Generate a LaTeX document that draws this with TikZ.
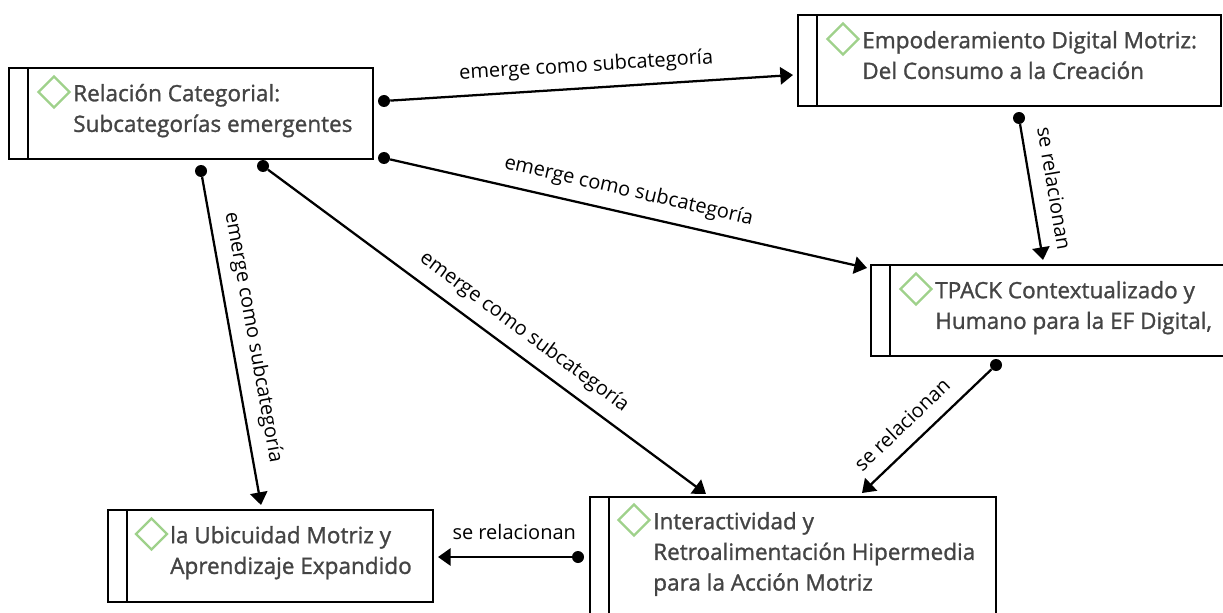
\documentclass[tikz,border=0pt]{standalone}
\usepackage{fontspec}
\setmainfont{Open Sans}
\newfontfamily\boxfont[FakeBold=1.2]{Open Sans}
\usetikzlibrary{arrows.meta,shapes.geometric}
\definecolor{ink}{HTML}{444444}
\definecolor{leaf}{HTML}{9FD18B}
\tikzset{
  x=0.75pt,y=-0.75pt,
  box/.style={draw=black,line width=1.7pt,rectangle,inner sep=0pt,fill=white},
  bar/.style={draw=black,line width=1.7pt},
  mark diamond/.style={diamond,draw=leaf,line width=1.7pt,fill=white,inner sep=0pt,minimum width=24pt,minimum height=24pt},
  title/.style={font=\boxfont\fontsize{16.9}{23}\selectfont,text=ink,align=left,anchor=north west,inner sep=0pt},
  dot/.style={circle,fill=black,inner sep=0pt,minimum size=9pt},
  link/.style={line width=1.7pt,draw=black,-{Triangle[length=9.5pt,width=13pt]}},
  tag/.style={font=\fontsize{15}{17}\selectfont,text=black,inner sep=0pt,sloped},
}
\newcommand{\flowbox}[6]{% name, x0, y0, x1, y1, bar x
  \node[box,minimum width={(#4-#2)*0.75pt},minimum height={(#5-#3)*0.75pt}] (#1) at ({(#2+#4)/2},{(#3+#5)/2}) {};
  \draw[bar] (#6,#3) -- (#6,#5);
}
\newcommand{\firstline}{\rule{0pt}{14pt}}
\begin{document}
\begin{tikzpicture}
\useasboundingbox (0,0) rectangle (1223,613);
\fill[white] (0,0) rectangle (1223,613);
% boxes
\flowbox{A}{9}{68}{373}{159}{28}
\flowbox{B}{798}{15}{1221}{106}{817}
\flowbox{C}{871}{265}{1240}{356}{890}
\flowbox{D}{108}{510}{433}{602}{127}
\flowbox{E}{590}{497}{996}{630}{609}
% diamonds
\node[mark diamond] (dA) at (54,92) {};
\node[mark diamond] (dB) at (843,39) {};
\node[mark diamond] (dC) at (916,289) {};
\node[mark diamond] (dD) at (151.5,534) {};
\node[mark diamond] (dE) at (634,520) {};
% titles
\node[title] (tA) at (73,82.3) {\firstline Relación Categorial:\\Subcategorías emergentes};
\node[title] (tB) at (862,29.3) {\firstline Empoderamiento Digital Motriz:\\Del Consumo a la Creación};
\node[title] (tC) at (935,279.3) {\firstline TPACK Contextualizado y\\Humano para la EF Digital,};
\node[title] (tD) at (170,524.3) {\firstline la Ubicuidad Motriz y\\Aprendizaje Expandido};
\node[title] (tE) at (653,510.3) {\firstline Interactividad y\\Retroalimentación Hipermedia\\para la Acción Motriz};
% connector ends
\node[dot] (s1) at (384,101) {};
\node[dot] (s2) at (384,158) {};
\node[dot] (s3) at (263,166) {};
\node[dot] (s4) at (201,171) {};
\node[dot] (s5) at (1019,118) {};
\node[dot] (s6) at (996,365) {};
\node[dot] (s7) at (578,557) {};
\coordinate (e1) at (793,75);
\coordinate (e2) at (867,268);
\coordinate (e3) at (706,494);
\coordinate (e4) at (261,505);
\coordinate (e5) at (1043,260);
\coordinate (e6) at (862,493);
\coordinate (e7) at (438,557);
% connectors
\draw[link] (s1) -- (e1) node[tag,pos=.49,above=8pt] {emerge como subcategoría};
\draw[link] (s2) -- (e2) node[tag,pos=.49,above=8pt] {emerge como subcategoría};
\draw[link] (s3) -- (e3) node[tag,pos=.555,above=8pt] {emerge como subcategoría};
\draw[link] (s4) -- (e4) node[tag,pos=.5,above=8pt] {emerge como subcategoría};
\draw[link] (s5) -- (e5) node[tag,pos=.5,above=11pt] {se relacionan};
\draw[link] (s6) -- (e6) node[tag,pos=.575,above=10pt] {se relacionan};
\draw[link] (s7) -- (e7) node[tag,pos=.43,above=12pt] {se relacionan};
\end{tikzpicture}
\end{document}
